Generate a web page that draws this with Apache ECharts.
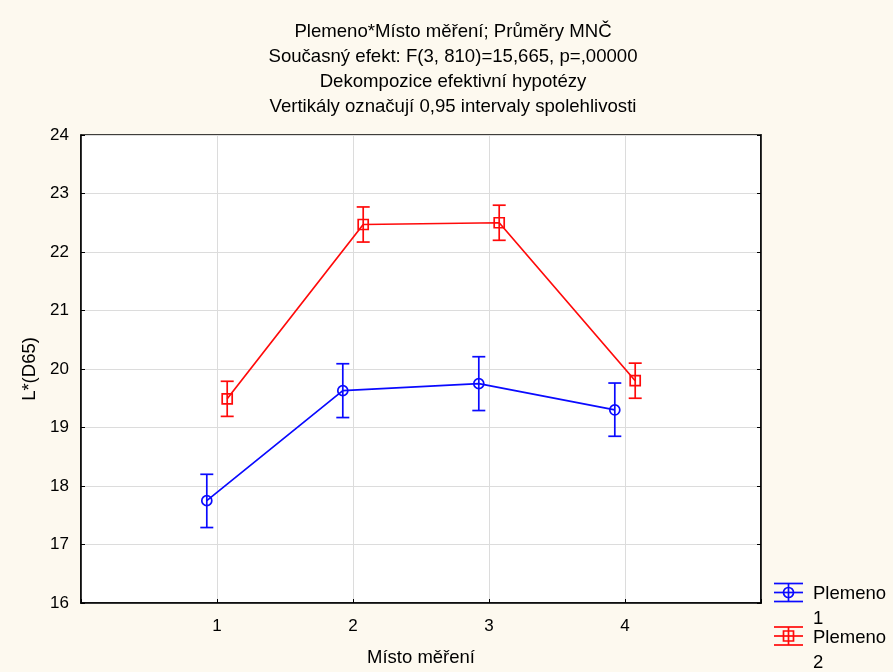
<!DOCTYPE html>
<html>
<head>
<meta charset="utf-8">
<script src="https://cdn.jsdelivr.net/npm/echarts@6/dist/echarts.min.js"></script>
<style>
  html, body { margin: 0; padding: 0; background: #fdf9ef; }
  #chart { width: 893px; height: 672px; }
</style>
</head>
<body>
<div id="chart"></div>
<script>
// Measurement positions (x axis) and group names
const categories = [1, 2, 3, 4];
const groupNames = ['Plemeno\n1', 'Plemeno\n2'];

// Least-squares means of L*(D65) with 0.95 confidence limits
const mean1  = [17.75, 19.63, 19.75, 19.30];
const lower1 = [17.29, 19.17, 19.29, 18.85];
const upper1 = [18.20, 20.09, 20.21, 19.76];

const mean2  = [19.49, 22.47, 22.50, 19.80];
const lower2 = [19.19, 22.17, 22.20, 19.50];
const upper2 = [19.79, 22.77, 22.80, 20.10];

const yTicks = [16, 17, 18, 19, 20, 21, 22, 23, 24];

const BLUE = '#0a0aff';
const RED = '#ff0a0a';
const FONT = '"Liberation Sans", Arial, sans-serif';

// horizontal dodge so the two groups' whiskers do not overlap
const DODGE = 0.075;

function lineData(means, shift) {
  return categories.map((c, i) => [c + shift, means[i]]);
}
function barData(means, lo, hi, shift) {
  return categories.map((c, i) => [c + shift, lo[i], hi[i], means[i]]);
}

function errorBarRenderer(color, marker) {
  return function (params, api) {
    const x = api.value(0);
    const pLo = api.coord([x, api.value(1)]);
    const pHi = api.coord([x, api.value(2)]);
    const pM = api.coord([x, api.value(3)]);
    const capW = 6.5;
    const st = { stroke: color, lineWidth: 1.7, fill: null };
    const children = [
      { type: 'line', shape: { x1: pHi[0], y1: pHi[1], x2: pLo[0], y2: pLo[1] }, style: st },
      { type: 'line', shape: { x1: pHi[0] - capW, y1: pHi[1], x2: pHi[0] + capW, y2: pHi[1] }, style: st },
      { type: 'line', shape: { x1: pLo[0] - capW, y1: pLo[1], x2: pLo[0] + capW, y2: pLo[1] }, style: st }
    ];
    if (marker === 'circle') {
      children.push({ type: 'circle', shape: { cx: pM[0], cy: pM[1], r: 5 }, style: st });
    } else {
      children.push({ type: 'rect', shape: { x: pM[0] - 5, y: pM[1] - 5, width: 10, height: 10 }, style: st });
    }
    return { type: 'group', children: children };
  };
}

function legendIcon(x, y, color, marker) {
  const st = { stroke: color, lineWidth: 1.7, fill: null };
  const w = 29, h = 9;
  const cx = x + w / 2;
  const els = [
    { type: 'line', shape: { x1: x, y1: y - h, x2: x + w, y2: y - h }, style: st },
    { type: 'line', shape: { x1: x, y1: y + h, x2: x + w, y2: y + h }, style: st },
    { type: 'line', shape: { x1: x, y1: y, x2: x + w, y2: y }, style: st },
    { type: 'line', shape: { x1: cx, y1: y - h, x2: cx, y2: y + h }, style: st }
  ];
  if (marker === 'circle') {
    els.push({ type: 'circle', shape: { cx: cx, cy: y, r: 5 }, style: st });
  } else {
    els.push({ type: 'rect', shape: { x: cx - 5, y: y - 5, width: 10, height: 10 }, style: st });
  }
  return els;
}

const chart = echarts.init(document.getElementById('chart'), null, { renderer: 'canvas' });

const option = {
  backgroundColor: '#fdf9ef',
  animation: false,
  title: {
    text: 'Plemeno*Místo měření; Průměry MNČ\nSoučasný efekt: F(3, 810)=15,665, p=,00000\nDekompozice efektivní hypotézy\nVertikály označují 0,95 intervaly spolehlivosti',
    left: 448,
    top: 15,
    textAlign: 'center',
    textStyle: {
      fontFamily: FONT, fontSize: 18.6, fontWeight: 'normal', color: '#000', lineHeight: 24.7
    }
  },
  grid: {
    left: 81, right: 132, top: 135, bottom: 67,
    show: true, backgroundColor: '#ffffff', borderColor: '#000', borderWidth: 1.5
  },
  xAxis: [{
    type: 'value', min: 0, max: 5, interval: 1,
    name: 'Místo měření', nameLocation: 'middle', nameGap: 45,
    nameTextStyle: { fontFamily: FONT, fontSize: 18.5, color: '#000' },
    axisLine: { lineStyle: { color: '#000', width: 1.5 } },
    axisTick: { inside: true, length: 4, lineStyle: { color: '#000' } },
    axisLabel: {
      fontFamily: FONT, fontSize: 17, color: '#000', margin: 15,
      formatter: v => (categories.indexOf(v) >= 0 ? String(v) : '')
    },
    splitLine: { show: true, lineStyle: { color: '#dcdcdc', width: 1 } }
  }],
  yAxis: [{
    type: 'value', min: yTicks[0], max: yTicks[yTicks.length - 1], interval: 1,
    name: 'L*(D65)', nameLocation: 'middle', nameGap: 36, nameRotate: 90,
    nameTextStyle: { fontFamily: FONT, fontSize: 18.5, color: '#000' },
    axisLine: { show: true, lineStyle: { color: '#000', width: 1.5 } },
    axisTick: { show: true, inside: true, length: 4, lineStyle: { color: '#000' } },
    axisLabel: { fontFamily: FONT, fontSize: 17, color: '#000', margin: 12 },
    splitLine: { show: true, lineStyle: { color: '#dcdcdc', width: 1 } }
  }, {
    type: 'value', position: 'right', min: yTicks[0], max: yTicks[yTicks.length - 1], interval: 1,
    axisLine: { show: true, lineStyle: { color: '#000', width: 1.5 } },
    axisTick: { show: true, inside: true, length: 4, lineStyle: { color: '#000' } },
    axisLabel: { show: false },
    splitLine: { show: false }
  }],
  series: [
    {
      name: groupNames[0], type: 'line', data: lineData(mean1, -DODGE),
      showSymbol: false, lineStyle: { color: BLUE, width: 1.7 }, z: 3
    },
    {
      name: groupNames[1], type: 'line', data: lineData(mean2, DODGE),
      showSymbol: false, lineStyle: { color: RED, width: 1.7 }, z: 3
    },
    {
      type: 'custom', data: barData(mean1, lower1, upper1, -DODGE),
      renderItem: errorBarRenderer(BLUE, 'circle'), z: 4
    },
    {
      type: 'custom', data: barData(mean2, lower2, upper2, DODGE),
      renderItem: errorBarRenderer(RED, 'rect'), z: 4
    }
  ],
  graphic: [
    ...legendIcon(774, 592.5, BLUE, 'circle'),
    { type: 'text', left: 813, top: 582, style: { text: 'Plemeno\n1', font: '18.5px ' + FONT, fill: '#000', lineHeight: 24.5 } },
    ...legendIcon(774, 636, RED, 'rect'),
    { type: 'text', left: 813, top: 626, style: { text: 'Plemeno\n2', font: '18.5px ' + FONT, fill: '#000', lineHeight: 24.5 } }
  ]
};

chart.setOption(option);
</script>
</body>
</html>
